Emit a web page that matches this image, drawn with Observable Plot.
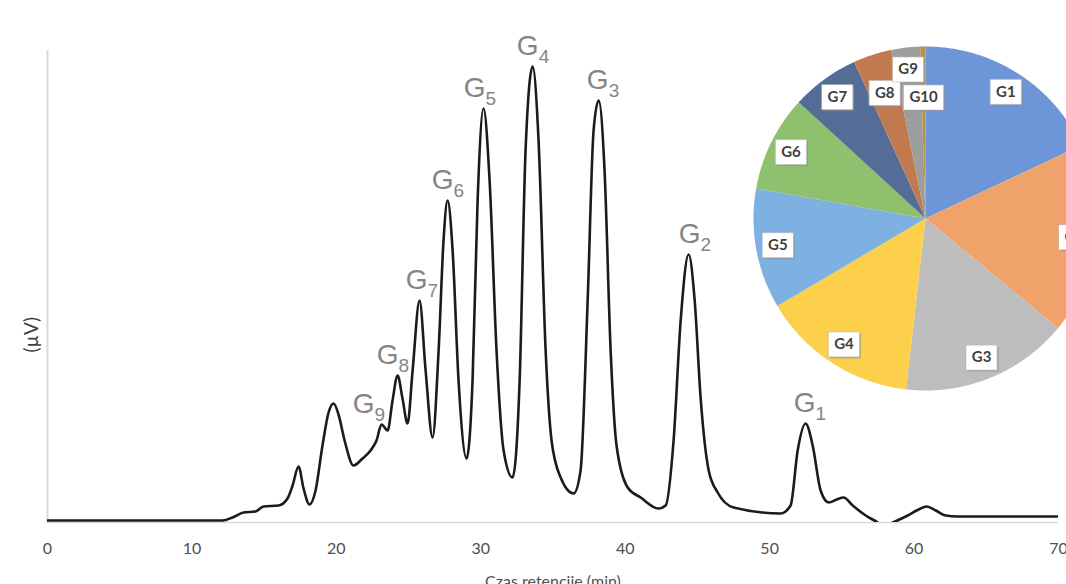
<!DOCTYPE html>
<html><head><meta charset="utf-8">
<script src="https://cdn.jsdelivr.net/npm/d3@7"></script>
<script src="https://cdn.jsdelivr.net/npm/@observablehq/plot@0.6"></script>
<style>
html,body{margin:0;padding:0;background:#fff;overflow:hidden;width:1066px;height:584px;}
#wrap{position:relative;width:1066px;height:584px;overflow:hidden;}
#main{position:absolute;left:0;top:0;}
#pie{position:absolute;left:753px;top:46px;width:344px;height:344px;}
</style></head><body><div id="wrap"><div id="main"></div><div id="pie"></div></div>
<script>
// Chromatogram trace: retention time (min) and detector signal (µV, arbitrary units)
const times = [0, 2.98, 12.12, 12.81, 13.57, 14.40, 14.96, 16.00, 16.62, 16.97, 17.38, 17.73, 18.14, 18.56, 19.04, 19.46, 19.81, 20.15, 20.57, 21.19, 21.81, 22.37, 22.78, 23.13, 23.55, 23.89, 24.24, 24.58, 24.93, 25.28, 25.76, 26.18, 26.66, 27.08, 27.42, 27.70, 28.05, 28.46, 29.02, 29.43, 29.78, 30.19, 30.61, 31.09, 31.58, 32.20, 32.69, 33.10, 33.59, 34.00, 34.49, 34.90, 35.53, 36.43, 36.91, 37.40, 37.81, 38.16, 38.57, 38.99, 39.40, 40.17, 41.07, 42.31, 42.80, 43.35, 43.84, 44.39, 44.81, 45.22, 45.78, 46.40, 47.51, 50.76, 51.45, 51.94, 52.49, 52.98, 53.53, 54.09, 54.64, 55.12, 55.75, 56.65, 57.48, 57.89, 58.38, 59.42, 60.32, 60.87, 61.50, 62.19, 63.02, 70];
const signal = [2, 2, 2, 5, 10, 11, 16, 17, 24, 37, 56, 34, 18, 32, 77, 110, 119, 108, 82, 57, 64, 72, 82, 98, 92, 122, 147, 124, 99, 152, 222, 152, 85, 172, 282, 322, 272, 142, 64, 142, 322, 414, 342, 172, 72, 45, 142, 372, 456, 382, 172, 82, 45, 29, 52, 222, 392, 422, 352, 172, 77, 35, 25, 14, 17, 82, 202, 268, 222, 125, 52, 30, 15, 9, 17, 72, 99, 77, 32, 20, 23, 25, 17, 7, 0, -4, -1, 6, 13, 16, 12, 7, 6, 6];

// Peak annotations
const peakNames = ["G1", "G2", "G3", "G4", "G5", "G6", "G7", "G8", "G9"];
const peakTimes = [52.49, 44.39, 38.16, 33.59, 30.19, 27.70, 25.76, 24.24, 23.13];
const peakHeights = [99, 268, 422, 456, 414, 322, 222, 147, 98];

const xTicks = [0, 10, 20, 30, 40, 50, 60, 70];

// Pie inset: share (%) of each oligomer
const pieNames = ["G1", "G2", "G3", "G4", "G5", "G6", "G7", "G8", "G9", "G10"];
const pieShares = [18.0, 18.0, 15.8, 14.7, 11.3, 9.0, 6.4, 3.6, 2.7, 0.5];

// ---- styling / layout (not data) ----
const pieColors = ["#6d96d8", "#f0a26b", "#bdbdbd", "#fdd04b", "#7eb1e2", "#8ec06d", "#546d97", "#c17a4f", "#9d9d9d", "#b39347"];
const labelShift = {G1: 4, G2: 6, G3: 4, G4: 0, G5: -4, G6: 0, G7: 2, G8: -5, G9: -13};
const pieLabelR = {G8: 132, G10: 121};

const series = times.map((t, i) => ({t, v: signal[i]}));
const peaks = peakNames.map((n, i) => ({name: n, base: "G", sub: n.slice(1), t: peakTimes[i], v: peakHeights[i]}));

const labelMarks = peaks.flatMap(p => {
  const sh = labelShift[p.name] || 0;
  return [
    Plot.text([p], {x: "t", y: "v", text: "base", textAnchor: "end", lineAnchor: "bottom", dx: 6 + sh, dy: -12, fontSize: 28, fill: "#858585", fontFamily: "Liberation Sans"}),
    Plot.text([p], {x: "t", y: "v", text: "sub", textAnchor: "start", lineAnchor: "bottom", dx: 6 + sh, dy: -4, fontSize: 19, fill: "#858585", fontFamily: "Liberation Sans"})
  ];
});

const main = Plot.plot({
  width: 1066, height: 584,
  marginTop: 50, marginBottom: 62, marginLeft: 47, marginRight: 8,
  x: {domain: [0, 70]},
  y: {domain: [0, 472]},
  style: {background: "transparent", fontFamily: "Lato", fontSize: "16px"},
  marks: [
    Plot.ruleY([0], {stroke: "#d9d9d9", strokeWidth: 1.5}),
    Plot.ruleX([0], {stroke: "#d9d9d9", strokeWidth: 2}),
    Plot.axisX({ticks: xTicks, tickSize: 0, tickPadding: 20, color: "#4f4f4f", label: "Czas retencjie (min)", labelAnchor: "center", labelArrow: "none", labelOffset: 64}),
    Plot.axisY({ticks: [], label: null}),
    Plot.text(["(µV)"], {frameAnchor: "left", rotate: -90, dx: -16, dy: 66, fill: "#404040", fontSize: 19}),
    Plot.line(series, {x: "t", y: "v", curve: "monotone-x", stroke: "#1b1b1b", strokeWidth: 2.6, clip: true}),
    ...labelMarks
  ]
});
document.getElementById("main").appendChild(main);

// Pie geometry
const R = 172;
const pieData = pieNames.map((n, i) => ({name: n, share: pieShares[i]}));
const arcs = d3.pie().sort(null).value(d => d.share).startAngle(0).endAngle(2 * Math.PI)(pieData);
const pt = (r, a) => [r * Math.sin(a), -r * Math.cos(a)];
const slices = arcs.map(a => {
  const ring = [[0, 0]];
  const n = Math.max(2, Math.ceil((a.endAngle - a.startAngle) / (Math.PI / 360)));
  for (let k = 0; k <= n; k++) ring.push(pt(R, a.startAngle + (a.endAngle - a.startAngle) * k / n));
  ring.push([0, 0]);
  return {type: "Feature", properties: {name: a.data.name}, geometry: {type: "Polygon", coordinates: [ring]}};
});
const labels = arcs.map(a => {
  const mid = (a.startAngle + a.endAngle) / 2;
  const r = pieLabelR[a.data.name] || 150;
  const [x, y] = pt(r, mid);
  return {name: a.data.name, x, y, w: a.data.name.length > 2 ? 40 : 31, h: 25};
});
const box = (d, off) => ({type: "Feature", properties: {name: d.name}, geometry: {type: "Polygon", coordinates: [[
  [d.x - d.w / 2 + off, d.y - d.h / 2 + off], [d.x + d.w / 2 + off, d.y - d.h / 2 + off],
  [d.x + d.w / 2 + off, d.y + d.h / 2 + off], [d.x - d.w / 2 + off, d.y + d.h / 2 + off],
  [d.x - d.w / 2 + off, d.y - d.h / 2 + off]]]}});

const pie = Plot.plot({
  width: 344, height: 344, margin: 0,
  projection: {type: "identity", domain: {type: "MultiPoint", coordinates: [[-R, -R], [R, R]]}},
  color: {domain: pieNames, range: pieColors},
  style: {background: "transparent", fontFamily: "Lato", maxWidth: "none", overflow: "visible"},
  marks: [
    Plot.geo(slices, {fill: d => d.properties.name, stroke: "none"}),
    Plot.geo(labels.map(d => box(d, 1.5)), {fill: "#8a8a8a", fillOpacity: 0.55}),
    Plot.geo(labels.map(d => box(d, 0)), {fill: "white", stroke: "#b5b5b5", strokeWidth: 0.6}),
    Plot.text(labels, {x: "x", y: "y", text: "name", fontSize: 15, fontWeight: "bold", fill: "#404040"})
  ]
});
document.getElementById("pie").appendChild(pie);
</script></body></html>
